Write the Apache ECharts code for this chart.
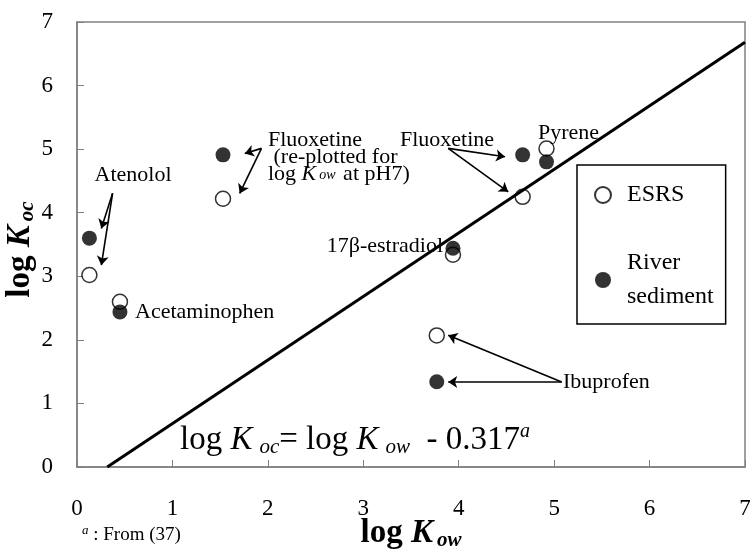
<!DOCTYPE html>
<html><head><meta charset="utf-8">
<script src="https://cdn.jsdelivr.net/npm/echarts@6/dist/echarts.min.js"></script>
<style>html,body{margin:0;padding:0;background:#fff}#c{width:752px;height:554px}</style>
</head><body><div id="c"></div>
<script>
// ---- data ----
const compounds = ['Atenolol', 'Acetaminophen', 'Fluoxetine (log Kow at pH7)', '17β-estradiol', 'Fluoxetine', 'Pyrene', 'Ibuprofen'];
const logKow = [0.13, 0.45, 1.53, 3.94, 4.67, 4.92, 3.77];
const esrsLogKoc = [3.02, 2.60, 4.22, 3.34, 4.25, 5.01, 2.07];
const riverLogKoc = [3.60, 2.44, 4.91, 3.44, 4.91, 4.80, 1.34];
const xTicks = [0, 1, 2, 3, 4, 5, 6, 7];
const yTicks = [0, 1, 2, 3, 4, 5, 6, 7];
// regression: log Koc = log Kow - 0.317
const fitOffset = 0.317;
const fitEndX = 7;
// annotation arrows [fromX, fromY, toX, toY] in data units
const arrowFrom = [[0.373, 4.305], [0.373, 4.305], [1.933, 5.012], [1.933, 5.012], [3.890, 5.012], [3.890, 5.012], [5.079, 1.338], [5.079, 1.338]];
const arrowTo = [[0.255, 3.753], [0.255, 3.175], [1.758, 4.933], [1.705, 4.304], [4.485, 4.880], [4.519, 4.329], [3.890, 2.073], [3.890, 1.338]];

const SERIF = '"Liberation Serif", "Times New Roman", serif';
const chart = echarts.init(document.getElementById('c'));

const esrsData = logKow.map((x, i) => [x, esrsLogKoc[i], compounds[i]]);
const riverData = logKow.map((x, i) => [x, riverLogKoc[i], compounds[i]]);
const fitData = [[fitOffset, 0], [fitEndX, fitEndX - fitOffset]];
const arrowData = arrowFrom.map((f, i) => ({ coords: [f, arrowTo[i]] }));

const axisGrey = '#808080';

function txt(x, y, text, align, rich, lineHeight) {
  return {
    type: 'text', x: x, y: y, z: 50,
    style: {
      text: text, fill: '#000', font: '22px ' + SERIF,
      align: align || 'left', verticalAlign: 'middle',
      lineHeight: lineHeight || 22, rich: rich || {}
    }
  };
}

const titleRich = {
  b: { fontFamily: SERIF, fontWeight: 'bold', fontSize: 33, lineHeight: 36, color: '#000' },
  bi: { fontFamily: SERIF, fontWeight: 'bold', fontStyle: 'italic', fontSize: 33, lineHeight: 36, color: '#000' },
  bs: { fontFamily: SERIF, fontWeight: 'bold', fontStyle: 'italic', fontSize: 21, lineHeight: 21, verticalAlign: 'bottom', color: '#000', padding: [0, 0, 0, 4] }
};

const option = {
  animation: false,
  backgroundColor: '#fff',
  grid: { left: 77, right: 7, top: 22, bottom: 87, show: true, borderColor: axisGrey, borderWidth: 1.5, containLabel: false, outerBoundsMode: 'none' },
  xAxis: {
    type: 'value', min: xTicks[0], max: xTicks[xTicks.length - 1], interval: 1,
    axisLine: { show: true, lineStyle: { color: axisGrey, width: 1.5 } },
    axisTick: { show: true, inside: true, length: 7, lineStyle: { color: axisGrey, width: 1 } },
    splitLine: { show: false },
    axisLabel: { color: '#000', fontFamily: SERIF, fontSize: 23, margin: 30 },
    name: '{b|log }{bi|K}{bs|ow}', nameLocation: 'middle', nameGap: 48, nameMoveOverlap: false,
    nameTextStyle: { rich: titleRich }
  },
  yAxis: {
    type: 'value', min: yTicks[0], max: yTicks[yTicks.length - 1], interval: 1,
    axisLine: { show: true, lineStyle: { color: axisGrey, width: 1.5 } },
    axisTick: { show: true, inside: true, length: 7, lineStyle: { color: axisGrey, width: 1 } },
    splitLine: { show: false },
    axisLabel: { color: '#000', fontFamily: SERIF, fontSize: 23, margin: 24 },
    name: '{b|log }{bi|K}{bs|oc}', nameLocation: 'middle', nameGap: 39, nameRotate: 90, nameMoveOverlap: false,
    nameTextStyle: { rich: titleRich, padding: [0, 10, 0, 0] }
  },
  legend: {
    orient: 'vertical', left: 577, top: 165,
    padding: [13, 12, 10, 17], itemGap: 34,
    borderColor: '#000', borderWidth: 1.5,
    itemWidth: 16, itemHeight: 16,
    data: [{ name: 'ESRS', icon: 'circle' }, { name: 'River sediment', icon: 'circle' }],
    formatter: n => n === 'River sediment' ? 'River\nsediment' : n,
    textStyle: { fontFamily: SERIF, fontSize: 24, lineHeight: 34, color: '#000', padding: [0, 0, 0, 11] }
  },
  series: [
    { name: 'ESRS', type: 'scatter', data: esrsData, symbol: 'circle', symbolSize: 15,
      itemStyle: { color: '#fff', borderColor: '#000', borderWidth: 1.5 }, z: 3 },
    { name: 'River sediment', type: 'scatter', data: riverData, symbol: 'circle', symbolSize: 15,
      itemStyle: { color: '#000', borderColor: '#000', borderWidth: 0 }, z: 3 },
    { name: 'fit', type: 'line', data: fitData, showSymbol: false, symbol: 'none',
      lineStyle: { color: '#000', width: 3 }, z: 4, silent: true },
    { name: 'arrows', type: 'lines', coordinateSystem: 'cartesian2d', data: arrowData,
      symbol: ['none', 'arrow'], symbolSize: 9,
      lineStyle: { color: '#000', width: 1.6, opacity: 1, curveness: 0 }, z: 5, silent: true }
  ],
  graphic: [
    txt(133, 175, 'Atenolol', 'center'),
    txt(135, 312, 'Acetaminophen', 'left'),
    txt(268, 157, 'Fluoxetine\n (re-plotted for\nlog {i|K}{s|ow} at pH7)', 'left', {
      i: { fontFamily: SERIF, fontStyle: 'italic', fontSize: 22, lineHeight: 17 },
      s: { fontFamily: SERIF, fontStyle: 'italic', fontSize: 14, lineHeight: 14, verticalAlign: 'bottom', padding: [0, 2, 0, 3] }
    }, 17),
    txt(443, 246, '17β-estradiol', 'right'),
    txt(400, 140, 'Fluoxetine', 'left'),
    txt(538, 133, 'Pyrene', 'left'),
    txt(563, 382, 'Ibuprofen', 'left'),
    {
      type: 'text', x: 180, y: 440, z: 50,
      style: {
        text: '{n|log }{i|K}{s|oc}{n|= log }{i|K}{s|ow}{n|  - 0.317}{sup|a}',
        fill: '#000', align: 'left', verticalAlign: 'middle',
        rich: {
          n: { fontFamily: SERIF, fontSize: 33, lineHeight: 36 },
          i: { fontFamily: SERIF, fontStyle: 'italic', fontSize: 33, lineHeight: 36 },
          s: { fontFamily: SERIF, fontStyle: 'italic', fontSize: 21, lineHeight: 21, verticalAlign: 'bottom', padding: [0, 0, 0, 7] },
          sup: { fontFamily: SERIF, fontStyle: 'italic', fontSize: 20, lineHeight: 20, verticalAlign: 'top' }
        }
      }
    },
    {
      type: 'text', x: 82, y: 535, z: 50,
      style: {
        text: '{sup|a}{n| : From (37)}',
        fill: '#000', align: 'left', verticalAlign: 'middle',
        rich: {
          n: { fontFamily: SERIF, fontSize: 19, lineHeight: 22 },
          sup: { fontFamily: SERIF, fontStyle: 'italic', fontSize: 13, lineHeight: 13, verticalAlign: 'top' }
        }
      }
    }
  ]
};
chart.setOption(option);
</script></body></html>
